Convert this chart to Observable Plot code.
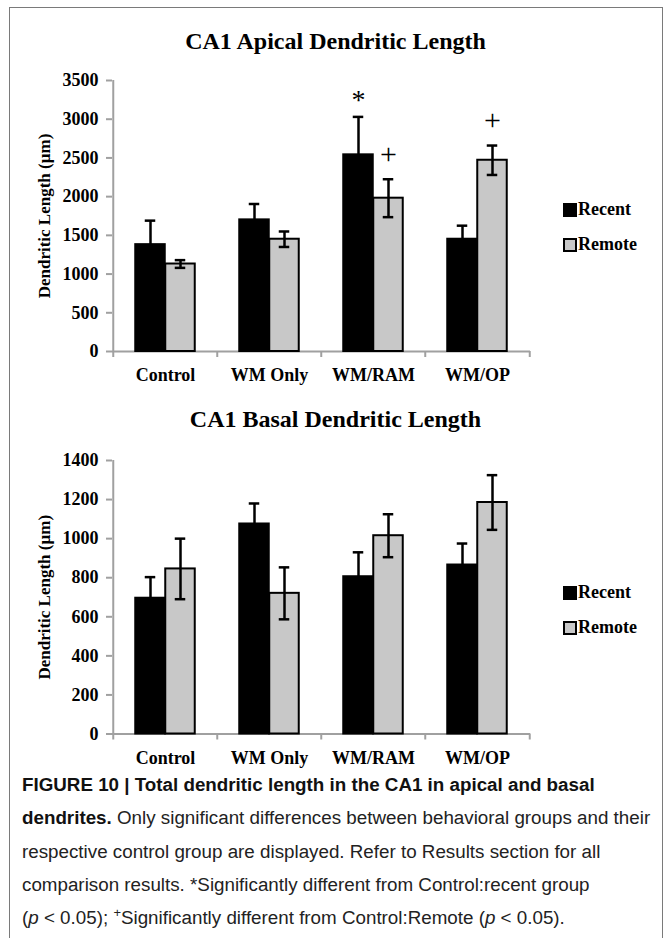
<!DOCTYPE html>
<html>
<head>
<meta charset="utf-8">
<script src="https://cdn.jsdelivr.net/npm/d3@7"></script>
<script src="https://cdn.jsdelivr.net/npm/@observablehq/plot@0.6"></script>
<style>
  html, body { margin: 0; padding: 0; background: #fff; }
  body { width: 671px; height: 938px; position: relative; overflow: hidden; }
  #frame { position: absolute; left: 9px; top: 7px; width: 652px; height: 1000px; border: 1.5px solid #7a7a7a; }
  .title { position: absolute; left: 0; width: 671px; text-align: center; font-family: "Liberation Serif", serif; font-weight: bold; font-size: 24px; line-height: 28px; color: #000; }
  .chart { position: absolute; left: 10px; }
  .legend { position: absolute; left: 563px; font-family: "Liberation Serif", serif; font-weight: bold; font-size: 18px; color: #000; }
  .legend .item { display: flex; align-items: center; height: 35px; }
  .legend .sw { width: 10px; height: 10px; border: 2px solid #000; margin-right: 1px; box-sizing: content-box; }
  #caption { position: absolute; left: 22px; top: 768px; font-family: "Liberation Sans", Arial, sans-serif; font-size: 18.8px; line-height: 33.3px; color: #222; white-space: nowrap; }
  #caption b { color: #111; }
</style>
</head>
<body>
<div id="frame"></div>
<div class="title" style="top:27px">CA1 Apical Dendritic Length</div>
<div class="chart" id="c1" style="top:62px"></div>
<div class="legend" id="l1" style="top:192px"></div>
<div class="title" style="top:405px">CA1 Basal Dendritic Length</div>
<div class="chart" id="c2" style="top:440px"></div>
<div class="legend" id="l2" style="top:575px"></div>
<div id="caption">
<b>FIGURE 10 | Total dendritic length in the CA1 in apical and basal</b><br>
<b>dendrites.</b> Only significant differences between behavioral groups and their<br>
respective control group are displayed. Refer to Results section for all<br>
comparison results. *Significantly different from Control:recent group<br>
(<i>p</i> &lt; 0.05); <sup style="font-size:13px;line-height:0">+</sup>Significantly different from Control:Remote (<i>p</i> &lt; 0.05).
</div>
<script>
// ---- data ----
const groups = ["Control", "WM Only", "WM/RAM", "WM/OP"];
const series = ["Recent", "Remote"];
const seriesColors = ["#000000", "#c8c8c8"];

const apicalRecent = [1380, 1700, 2540, 1450];
const apicalRecentErr = [310, 205, 490, 175];
const apicalRemote = [1130, 1450, 1980, 2470];
const apicalRemoteErr = [50, 100, 245, 190];
const apicalRecentSig = ["", "", "*", ""];
const apicalRemoteSig = ["", "", "+", "+"];
const apicalTicks = [0, 500, 1000, 1500, 2000, 2500, 3000, 3500];

const basalRecent = [695, 1075, 805, 865];
const basalRecentErr = [108, 105, 125, 110];
const basalRemote = [845, 720, 1015, 1185];
const basalRemoteErr = [155, 133, 110, 140];
const basalRecentSig = ["", "", "", ""];
const basalRemoteSig = ["", "", "", ""];
const basalTicks = [0, 200, 400, 600, 800, 1000, 1200, 1400];

const yLabel = "Dendritic Length (\u00b5m)";

function rowsOf(recent, recentErr, remote, remoteErr, recentSig, remoteSig) {
  const rows = [];
  groups.forEach((g, i) => {
    rows.push({group: g, series: "Recent", value: recent[i], err: recentErr[i], sig: recentSig[i]});
    rows.push({group: g, series: "Remote", value: remote[i], err: remoteErr[i], sig: remoteSig[i]});
  });
  return rows;
}

function chart(rows, ticks, opts) {
  const width = 653, marginLeft = 102, marginRight = 133;
  const bw = (width - marginLeft - marginRight) / groups.length;
  const barW = 30;
  const gray = "#a0a0a0";
  const rec = rows.filter(d => d.series === "Recent");
  const rem = rows.filter(d => d.series === "Remote");
  const yMax = ticks[ticks.length - 1];
  const errMarks = (data, off) => [
    Plot.ruleX(data, {x: "group", y1: d => d.value - d.err, y2: d => d.value + d.err, dx: off, stroke: "#000", strokeWidth: 2.5}),
    Plot.tickY(data, {x: "group", y: d => d.value + d.err, dx: off, insetLeft: bw / 2 - 5.5, insetRight: bw / 2 - 5.5, stroke: "#000", strokeWidth: 2.5}),
    Plot.tickY(data, {x: "group", y: d => d.value - d.err, dx: off, insetLeft: bw / 2 - 5.5, insetRight: bw / 2 - 5.5, stroke: "#000", strokeWidth: 2.5})
  ];
  return Plot.plot({
    width, height: opts.height,
    marginLeft, marginRight, marginTop: opts.marginTop, marginBottom: opts.height - opts.marginTop - opts.plotH,
    style: {fontFamily: "'Liberation Serif', serif", fontWeight: "bold", fontSize: "18px", color: "#000", background: "transparent"},
    x: {domain: groups, padding: 0, label: null},
    y: {domain: [0, yMax], label: null, nice: false},
    marks: [
      // axis lines
      Plot.ruleY([0], {stroke: gray, strokeWidth: 2}),
      Plot.ruleX([groups[0]], {x: d => d, y1: yMax, y2: 0, dx: -bw / 2, insetBottom: -6, stroke: gray, strokeWidth: 2}),
      Plot.ruleX(groups.slice(1), {x: d => d, y1: 0, y2: 0, dx: -bw / 2, insetBottom: -6, stroke: gray, strokeWidth: 2}),
      Plot.ruleX([groups[groups.length - 1]], {x: d => d, y1: 0, y2: 0, dx: bw / 2, insetBottom: -6, stroke: gray, strokeWidth: 2}),
      Plot.axisY({ticks, tickSize: 6, tickPadding: 8, stroke: gray, strokeWidth: 2, fill: "#000", fontSize: 18, tickFormat: d => String(d), label: null}),
      Plot.axisX({tickSize: 0, tickPadding: 17, fill: "#000", fontSize: 18, label: null}),
      Plot.text([yLabel], {text: d => d, frameAnchor: "left", textAnchor: "middle", rotate: -90, dx: -68, fontSize: 17, fill: "#000"}),
      // bars
      Plot.barY(rec, {x: "group", y: "value", fill: seriesColors[0], stroke: "#000", strokeWidth: 2, insetLeft: bw / 2 - barW, insetRight: bw / 2}),
      Plot.barY(rem, {x: "group", y: "value", fill: seriesColors[1], stroke: "#000", strokeWidth: 2, insetLeft: bw / 2, insetRight: bw / 2 - barW}),
      ...errMarks(rec, -barW / 2),
      ...errMarks(rem, barW / 2),
      // significance markers
      Plot.text(rec.filter(d => d.sig), {x: "group", y: d => d.value + d.err, dx: -barW / 2, dy: -17, text: "sig", fontSize: 28, fontWeight: "normal", fill: "#000"}),
      Plot.text(rem.filter(d => d.sig), {x: "group", y: d => d.value + d.err, dx: barW / 2, dy: -25, text: "sig", fontSize: 30, fontWeight: "normal", fill: "#000"})
    ]
  });
}

function legend(el) {
  series.forEach((s, i) => {
    const item = document.createElement("div");
    item.className = "item";
    const sw = document.createElement("span");
    sw.className = "sw";
    sw.style.background = seriesColors[i];
    item.appendChild(sw);
    item.appendChild(document.createTextNode(s));
    el.appendChild(item);
  });
}

document.getElementById("c1").appendChild(
  chart(rowsOf(apicalRecent, apicalRecentErr, apicalRemote, apicalRemoteErr, apicalRecentSig, apicalRemoteSig), apicalTicks,
        {height: 335, marginTop: 18, plotH: 271})
);
document.getElementById("c2").appendChild(
  chart(rowsOf(basalRecent, basalRecentErr, basalRemote, basalRemoteErr, basalRecentSig, basalRemoteSig), basalTicks,
        {height: 335, marginTop: 20, plotH: 273.5})
);
legend(document.getElementById("l1"));
legend(document.getElementById("l2"));
</script>
</body>
</html>
